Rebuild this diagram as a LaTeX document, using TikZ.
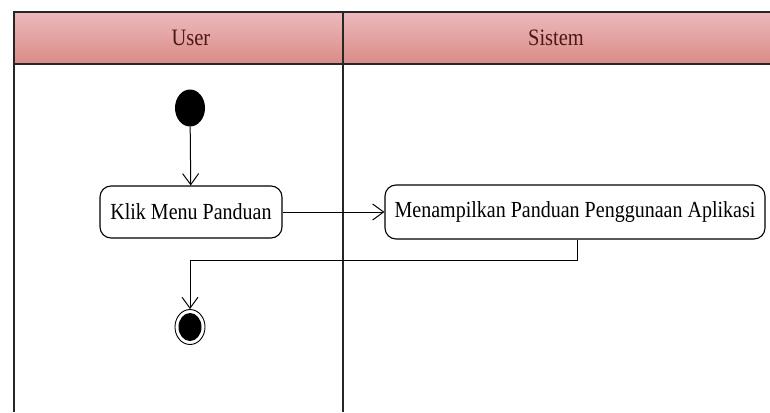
\documentclass[tikz,border=0pt]{standalone}
\usepackage{fontspec}
\setmainfont{Liberation Serif}[FakeStretch=0.87]
\usetikzlibrary{arrows.meta,positioning,shapes.geometric}
\definecolor{headtop}{HTML}{EDB9BC}
\definecolor{headbot}{HTML}{D98B86}
\definecolor{headtext}{HTML}{4A1818}
\tikzset{
  lane/.style={line width=1.4pt, draw=black!85},
  action/.style={draw, line width=1.1pt, rounded corners=11pt, fill=white,
    font=\fontsize{23}{25}\selectfont, inner sep=0pt, align=center},
  flow/.style={line width=1pt, -{Straight Barb[length=11pt,width=16pt,line width=1pt]}},
  startnode/.style={ellipse, fill=black, minimum width=30pt, minimum height=37pt, inner sep=0pt},
  endnode/.style={ellipse, draw, line width=0.9pt, fill=white, minimum width=30pt, minimum height=35pt, inner sep=0pt},
  endcore/.style={ellipse, fill=black, minimum width=23pt, minimum height=28pt, inner sep=0pt},
  lanetitle/.style={font=\fontsize{23.5}{25}\selectfont, text=headtext}
}
\begin{document}
\begin{tikzpicture}[x=1pt,y=-1pt]
\useasboundingbox (0,0) rectangle (770,412);
% swimlane header band
\shade[top color=headtop, bottom color=headbot] (14,12) rectangle (770,64);
\draw[lane] (770,12) -- (14,12) -- (14,412);
\draw[lane] (14,64) -- (770,64);
\draw[lane] (343,12) -- (343,412);
\node[lanetitle] (userlane) at (191,38) {User};
\node[lanetitle] (sistemlane) at (556,38) {Sistem};
% activity nodes
\node[startnode] (start) at (190,108) {};
\node[action, minimum width=182pt, minimum height=52pt] (klik) at (191,212) {Klik Menu Panduan};
\node[action, minimum width=380pt, minimum height=54pt] (tampil) at (575,212) {Menampilkan Panduan Penggunaan Aplikasi};
\node[endnode] (end) at (190,327) {};
\node[endcore] (endin) at (190,327) {};
% control flow
\draw[flow] (start) -- (klik);
\draw[flow] (klik) -- (tampil);
\coordinate (turn) at (577,260);
\draw[flow] (tampil.south -| turn) -- (turn) -- (turn -| end) -- (end);
\end{tikzpicture}
\end{document}
